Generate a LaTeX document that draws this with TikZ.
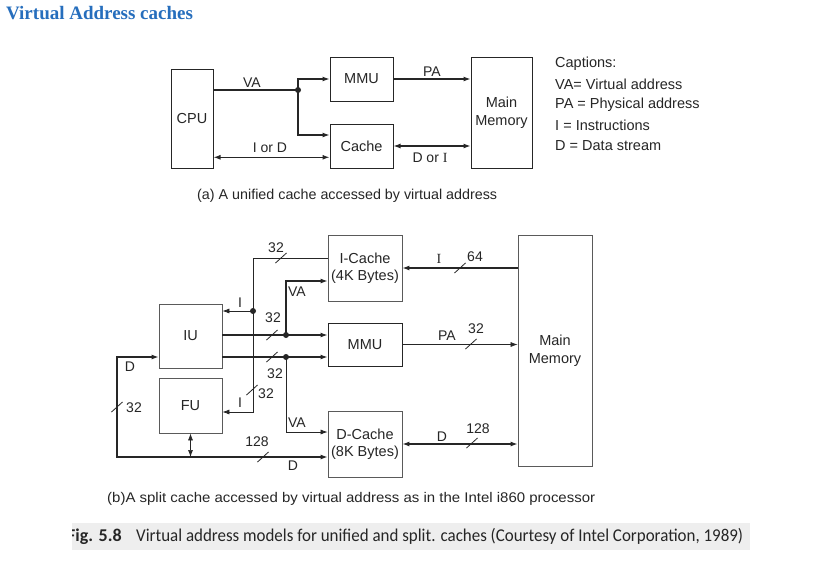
\documentclass[tikz,border=0pt]{standalone}
\usepackage{graphicx}
\usepackage{fontspec}
\setmainfont{Liberation Sans}
\newfontfamily\serifface{Liberation Serif}
\newfontfamily\figface{Carlito}
\usetikzlibrary{arrows.meta}
\definecolor{ink}{HTML}{262626}
\definecolor{boxgray}{HTML}{5A5A5A}
\definecolor{titleblue}{RGB}{38,110,189}
\definecolor{band}{HTML}{EEEEEE}
\newcommand\busmark[1]{\draw[ink,line width=0.8pt,shift={(#1)}] (-5.5,5) -- (5.5,-5);}
\begin{document}
\begin{tikzpicture}[x=1pt,y=-1pt,
  box/.style={draw=ink, line width=1pt, inner sep=0pt, align=center,
    font=\fontsize{14.5}{17.5}\selectfont, text=ink},
  gbox/.style={box, draw=boxgray, line width=0.8pt},
  lbl/.style={font=\fontsize{14}{16}\selectfont, text=ink, inner sep=0pt},
  legendline/.style={font=\fontsize{14.5}{17}\selectfont, text=ink, inner sep=0pt, anchor=west},
  wire/.style={draw=ink, line width=1.2pt},
  thinwire/.style={draw=ink, line width=0.7pt},
  arr/.style={-{Latex[length=7pt,width=5pt]}},
  darr/.style={{Latex[length=7pt,width=5pt]}-{Latex[length=7pt,width=5pt]}},
  dot/.style={fill=ink}
]
\useasboundingbox (0,0) rectangle (818,563);
\fill[white] (0,0) rectangle (818,563);

% title
\node[anchor=west, inner sep=0pt, text=titleblue, font=\serifface\bfseries\fontsize{19}{22}\selectfont] (title) at (6,12.7) {Virtual Address caches};

% ---------------- part (a) ----------------
\node[box, minimum width=42, minimum height=99] (cpu) at (192,118.5) {CPU};
\node[box, minimum width=63, minimum height=44] (mmu) at (361.5,79) {MMU};
\node[box, minimum width=63, minimum height=44] (cache) at (361.5,146) {Cache};
\node[box, minimum width=61, minimum height=111] (mma) at (501.5,112.5) {Main\\Memory};

\coordinate (ja) at (298,90);
\coordinate (jc) at (298,135);
\coordinate (iod) at (0,157.3);
\draw[wire] (cpu.east |- ja) -- (ja);
\draw[wire,arr] (ja) |- (mmu.west);
\draw[wire,arr] (ja) -- (jc) -- (cache.west |- jc);
\fill[dot] (ja) circle (3);
\draw[wire,arr] (mmu.east) -- (mma.west |- mmu.east);
\draw[wire,darr] (cpu.east |- iod) -- (cache.west |- iod);
\draw[wire,darr] (cache.east) -- (mma.west |- cache.east);

\node[lbl] (lva) at (252,83) {VA};
\node[lbl] (lpa) at (432,72) {PA};
\node[lbl] (liod) at (270,148) {I or D};
\node[lbl] (ldoi) at (430,158) {D or {\serifface I}};

\node[legendline] (c0) at (555,63.5) {Captions:};
\node[legendline] (c1) at (555,84) {VA= Virtual address};
\node[legendline] (c2) at (555,104.5) {PA = Physical address};
\node[legendline] (c3) at (555,125) {I = Instructions};
\node[legendline] (c4) at (555,145.5) {D = Data stream};

\node[anchor=west, inner sep=0pt, text=ink, font=\fontsize{14.3}{17}\selectfont] (capa) at (197,195.7)
  {\resizebox{300pt}{\height}{(a) A unified cache accessed by virtual address}};

% ---------------- part (b) ----------------
\node[gbox, minimum width=74, minimum height=66] (icache) at (365,268) {I-Cache\\(4K Bytes)};
\node[box, minimum width=74, minimum height=43] (mmub) at (365,344.5) {MMU};
\node[gbox, minimum width=74, minimum height=66] (dcache) at (365,444) {D-Cache\\(8K Bytes)};
\node[gbox, minimum width=63, minimum height=64] (iu) at (190.5,336) {IU};
\node[gbox, minimum width=63, minimum height=55] (fu) at (190.5,405.5) {FU};
\node[gbox, minimum width=74, minimum height=231] (mmb) at (555,350.5) {Main\\Memory};

\coordinate (bt) at (253,258);
\coordinate (bd) at (253,311);
\coordinate (bb) at (253,412);
\draw[thinwire,arr] (icache.west |- bt) -- (bt) -- (bb) -- (fu.east |- bb);
\draw[thinwire,arr] (bd) -- (iu.east |- bd);
\fill[dot] (bd) circle (3);

\coordinate (u1) at (286,335);
\coordinate (u2) at (286,357);
\coordinate (va1) at (286,281);
\coordinate (va2) at (286,432);
\draw[wire,arr] (iu.east |- u1) -- (mmub.west |- u1);
\draw[wire,arr] (iu.east |- u2) -- (mmub.west |- u2);
\draw[wire,arr] (u1) -- (va1) -- (icache.west |- va1);
\draw[thinwire,arr] (u2) -- (va2) -- (dcache.west |- va2);
\fill[dot] (u1) circle (3);
\fill[dot] (u2) circle (3);

\coordinate (dl) at (117,357);
\coordinate (dlb) at (117,457);
\draw[wire,darr] (iu.west |- dl) -- (dl) -- (dlb) -- (dcache.west |- dlb);
\draw[thinwire,darr] (fu.south) -- (fu.south |- dlb);

\draw[wire,arr] (mmb.west |- icache.east) -- (icache.east);
\draw[thinwire,arr] (mmub.east) -- (mmb.west |- mmub.east);
\draw[wire,darr] (dcache.east) -- (mmb.west |- dcache.east);

\busmark{281,258}
\busmark{252,390}
\busmark{272,335}
\busmark{272,357}
\busmark{117,407}
\busmark{263,457}
\busmark{460,268}
\busmark{471,344}
\busmark{472,443}

\node[lbl] (b1) at (276,248) {32};
\node[lbl] (b2) at (240,303) {I};
\node[lbl] (b3) at (273,318) {32};
\node[lbl] (b4) at (297,292) {VA};
\node[lbl] (b5) at (275,374) {32};
\node[lbl] (b6) at (266,394) {32};
\node[lbl] (b7) at (240,403) {I};
\node[lbl] (b8) at (297,423) {VA};
\node[lbl] (b9) at (130,367) {D};
\node[lbl] (b10) at (134,408) {32};
\node[lbl] (b11) at (257,442) {128};
\node[lbl] (b12) at (293,466) {D};
\node[lbl] (b13) at (439,259) {\serifface I};
\node[lbl] (b14) at (475,257) {64};
\node[lbl] (b15) at (447,336) {PA};
\node[lbl] (b16) at (476,329) {32};
\node[lbl] (b17) at (442,437) {D};
\node[lbl] (b18) at (478,429) {128};

\node[anchor=west, inner sep=0pt, text=ink, font=\fontsize{14}{17}\selectfont] (capb) at (107,499.3)
  {\resizebox{488pt}{\height}{(b)A split cache accessed by virtual address as in the Intel i860 processor}};

% ---------------- figure caption ----------------
\fill[band] (72,523) rectangle (750,550);
\begin{scope}
  \clip (72,523) rectangle (750,550);
  \node[anchor=base west, inner sep=0pt, text=ink, font=\figface\bfseries\fontsize{18}{20}\selectfont] (fignum) at (67,541) {Fig. 5.8};
\end{scope}
\node[anchor=base west, inner sep=0pt, text=ink, font=\figface\fontsize{18}{20}\selectfont] (figtext) at (136,541)
  {\resizebox{607pt}{\height}{Virtual address models for unified and split. caches (Courtesy of Intel Corporation, 1989)}};
\end{tikzpicture}
\end{document}
